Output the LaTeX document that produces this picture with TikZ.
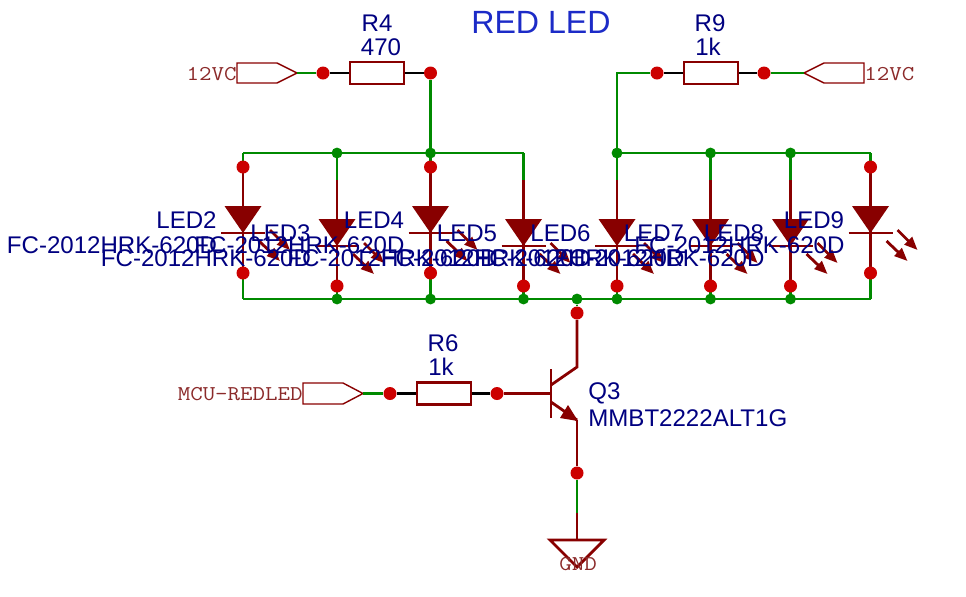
\documentclass[tikz,border=0pt]{standalone}
\usepackage{fontspec}
\setmainfont{Liberation Sans}
\newfontfamily\portfont[FakeStretch=1.15]{Latin Modern Mono}
\usetikzlibrary{arrows.meta}
\definecolor{wiregreen}{HTML}{008A00}
\definecolor{partred}{HTML}{880000}
\definecolor{pinred}{HTML}{CC0000}
\definecolor{labelblue}{HTML}{000080}
\definecolor{titleblue}{HTML}{1C2BC7}
\definecolor{portred}{HTML}{8B2A2A}
\tikzset{
  wire/.style={draw=wiregreen,line width=1.6pt},
  lead/.style={draw=partred,line width=1.6pt},
  blacklead/.style={draw=black,line width=1.6pt},
  part/.style={draw=partred,line width=1.6pt,line join=miter},
  resistor/.style={draw=partred,line width=1.6pt,fill=white,minimum width=1.08cm,minimum height=.44cm,inner sep=0pt},
  pin/.style={circle,fill=pinred,minimum size=7.4pt,inner sep=0pt},
  junction/.style={circle,fill=wiregreen,minimum size=6.2pt,inner sep=0pt},
  label/.style={text=labelblue,font=\fontsize{13.7}{13.7}\selectfont,inner sep=0pt},
  porttext/.style={text=portred,font=\fontsize{12}{12}\portfont,inner sep=0pt},
  port/.style={draw=partred,line width=.8pt,line join=miter},
  beam/.style={draw=partred,line width=1.6pt,-{Triangle[length=7.5pt,width=6pt]}},
}
\begin{document}
\begin{tikzpicture}[x=.02cm,y=-.02cm]
  \useasboundingbox (0,0) rectangle (966,596);
  %bus wires
  \coordinate (topa) at (243,153);
  \coordinate (topb) at (523.5,153);
  \coordinate (topc) at (617,153);
  \coordinate (topd) at (870.5,153);
  \coordinate (bota) at (243,299);
  \coordinate (botb) at (870.5,299);
  \draw[wire] (topa)--(topb);
  \draw[wire] (topc)--(topd);
  \draw[wire] (bota)--(botb);
  %leds
  \foreach \n/\x/\off in {2/243/0,3/337/13,4/430.5/0,5/523.5/13,6/617/13,7/710.5/13,8/790.5/13,9/870.5/0}{
    \coordinate (a\n) at (\x,167+\off);
    \coordinate (k\n) at (\x,273+\off);
    \draw[wire] (\x,153)--(a\n);
    \draw[wire] (k\n)--(\x,299);
    \draw[lead] (a\n)--(k\n);
    \fill[partred] (\x-18.5,206+\off)--(\x+18.5,206+\off)--(\x,233+\off)--cycle;
    \draw[part] (\x-22,233+\off)--(\x+22,233+\off);
    \draw[beam] (\x+27,230+\off)--(\x+47,250+\off);
    \draw[beam] (\x+16,241+\off)--(\x+37,261+\off);
    \node[pin] (p\n) at (k\n) {};
  }
  %pins on top of the high ones
  \foreach \n in {2,4,9}{
    \node[pin] (q\n) at (a\n) {};
  }
  %junctions
  \foreach \x in {337,430.5,617,710.5,790.5}{
    \node[junction] at (\x,153) {};
  }
  \foreach \x in {337,430.5,523.5,617,710.5,790.5}{
    \node[junction] at (\x,299) {};
  }
  \node[junction] (jq) at (577,299) {};
  %R4
  \node[pin] (r4a) at (323,73) {};
  \node[pin] (r4b) at (430.5,73) {};
  \node[resistor] (r4) at (377,73) {};
  \draw[blacklead] (r4a)--(r4);
  \draw[blacklead] (r4)--(r4b);
  \draw[wire] (r4b)--(430.5,153);
  \node[label] (r4name) at (377,23) {R4};
  \node[label] (r4val) at (381,47) {470};
  \draw[port] (237,63)--(277,63)--(297,73)--(277,83)--(237,83)--cycle;
  \coordinate (porta) at (297,73);
  \draw[wire] (porta)--(r4a);
  \node[porttext,anchor=east] (portatext) at (237,74) {12VC};
  %R9
  \node[pin] (r9a) at (657,73) {};
  \node[pin] (r9b) at (764,73) {};
  \node[resistor] (r9) at (711,73) {};
  \draw[blacklead] (r9a)--(r9);
  \draw[blacklead] (r9)--(r9b);
  \draw[wire] (617,153)--(617,73)--(r9a);
  \node[label] (r9name) at (710,23) {R9};
  \node[label] (r9val) at (708,47) {1k};
  \draw[port] (804,73)--(824,63)--(864,63)--(864,83)--(824,83)--cycle;
  \coordinate (portb) at (804,73);
  \draw[wire] (r9b)--(portb);
  \node[porttext,anchor=west] (portbtext) at (864,74) {12VC};
  %R6
  \node[pin] (r6a) at (390,393.5) {};
  \node[pin] (r6b) at (497,393.5) {};
  \node[resistor] (r6) at (444,393.5) {};
  \draw[blacklead] (r6a)--(r6);
  \draw[blacklead] (r6)--(r6b);
  \node[label] (r6name) at (443,343) {R6};
  \node[label] (r6val) at (441,367) {1k};
  \draw[port] (303,383)--(343,383)--(363,393.5)--(343,404)--(303,404)--cycle;
  \coordinate (portc) at (363,393.5);
  \draw[wire] (portc)--(r6a);
  \node[porttext,anchor=east] (portctext) at (303,394) {MCU-REDLED};
  %Q3
  \node[pin] (qc) at (577,313) {};
  \node[pin] (qe) at (577,473) {};
  \coordinate (qbar) at (551,393.5);
  \coordinate (gnd) at (577,540);
  \draw[wire] (jq)--(qc);
  \draw[lead] (qc)--(577,367)--(551,385);
  \draw[lead] (r6b)--(qbar);
  \draw[part] (551,369)--(551,418);
  \draw[lead] (551,402)--(577,420);
  \draw[lead] (577,420)--(qe);
  \fill[partred] (578,421)--(560,418)--(568,405)--cycle;
  \draw[wire] (qe)--(577,513);
  \draw[lead] (577,513)--(gnd);
  \draw[part] (550,540)--(604,540)--(577,567)--cycle;
  \node[porttext,anchor=center] (gndtext) at (578,564) {GND};
  \node[label,anchor=west] (q3name) at (588,393) {Q3};
  \node[label,anchor=west] (q3val) at (588,418) {MMBT2222ALT1G};
  %led labels
  \foreach \n/\x/\off in {2/243/0,3/337/13,4/430.5/0,5/523.5/13,6/617/13,7/710.5/13,8/790.5/13,9/870.5/0}{
    \node[label] (led\n) at (\x-56.5,220+\off) {LED\n};
    \node[label] (led\n val) at (\x-131,245+\off) {FC-2012HRK-620D};
  }
  \node[text=titleblue,font=\fontsize{18.3}{18.3}\selectfont,inner sep=0pt] (title) at (541,22) {RED LED};
\end{tikzpicture}
\end{document}
